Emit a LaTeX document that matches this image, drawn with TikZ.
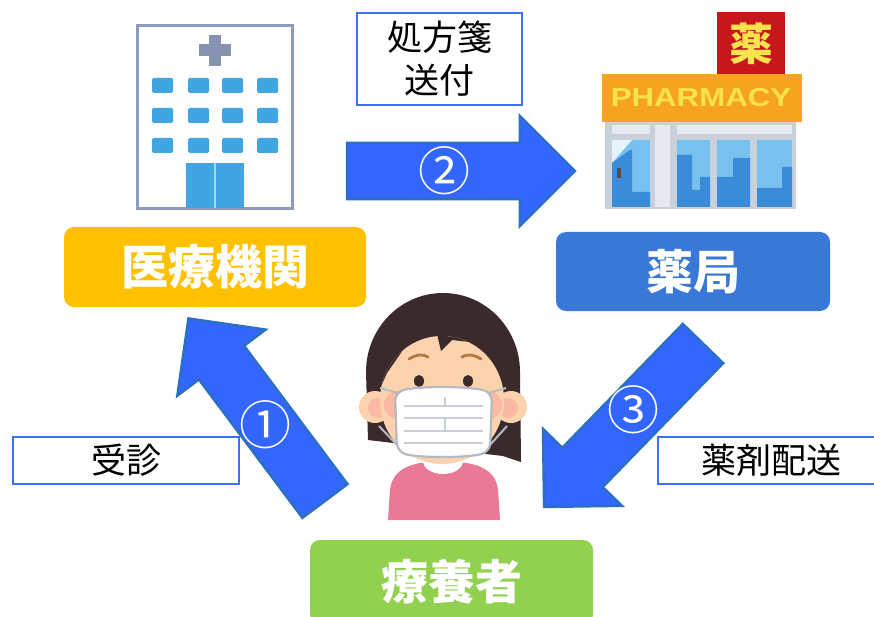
\documentclass[tikz,border=0pt]{standalone}
\usepackage{fontspec}
\newfontfamily\jpfont{Noto Sans CJK JP}
\newfontfamily\signfont{Liberation Sans}
\usetikzlibrary{shapes.arrows}
\definecolor{flowfill}{HTML}{3366FF}
\definecolor{flowedge}{HTML}{2B70BE}
\definecolor{tagedge}{HTML}{3F6FF8}
\definecolor{clinic}{HTML}{FFC000}
\definecolor{pharm}{HTML}{3A78D8}
\definecolor{patient}{HTML}{92D050}
\definecolor{wallline}{HTML}{8E9BBE}
\definecolor{crossgray}{HTML}{8793B0}
\definecolor{winblue}{HTML}{40A5E0}
\definecolor{doorline}{HTML}{A8D6F2}
\definecolor{signred}{HTML}{C8161D}
\definecolor{signorange}{HTML}{F6A41E}
\definecolor{signyellow}{HTML}{FAE24C}
\definecolor{shopgray}{HTML}{C9D0DA}
\definecolor{shopband}{HTML}{E6EAF0}
\definecolor{glasslight}{HTML}{78C0EE}
\definecolor{glassdark}{HTML}{3A8BD8}
\definecolor{hair}{HTML}{3B2A2C}
\definecolor{skin}{HTML}{FCD3AE}
\definecolor{blush}{HTML}{F9B9A2}
\definecolor{brow}{HTML}{B07B3C}
\definecolor{maskline}{HTML}{B4BBC4}
\definecolor{pleat}{HTML}{C9CED6}
\definecolor{shirt}{HTML}{EA7897}
\begin{document}
\begin{tikzpicture}[x=1pt,y=-1pt,
  flow/.style={single arrow, draw=flowedge, fill=flowfill, line width=2.4pt,
    minimum height=228pt, single arrow head extend=27pt,
    inner xsep=0pt, inner ysep=27pt, outer sep=0pt, anchor=tail},
  num/.style={text=white, inner sep=0pt, font=\jpfont\fontsize{52}{52}\selectfont},
  tag/.style={draw=tagedge, line width=2pt, fill=white, inner sep=0pt,
    font=\jpfont\fontsize{35}{43}\selectfont, align=center},
  title/.style={rounded corners=10pt, text=white, inner sep=0pt,
    font=\jpfont\bfseries\fontsize{47}{47}\selectfont},
  winpane/.style={fill=winblue, rounded corners=1.5pt}
]
\useasboundingbox[fill=white] (0,0) rectangle (874,617);

% ---------- hospital ----------
\draw[line width=3pt, draw=wallline, fill=white] (137,26) rectangle (292,209);
\fill[crossgray] (209,35) rectangle (221,66);
\fill[crossgray] (199,44) rectangle (231,56);
\foreach \wx in {152,188,222,257}{
  \foreach \wy in {78,108,138}{
    \fill[winpane] (\wx,\wy) rectangle ++(21,15);
  }
}
\fill[winblue] (186,163) rectangle (244,208);
\draw[doorline, line width=1.2pt] (215,163) -- (215,208);

% ---------- pharmacy ----------
\fill[signred] (717,12) rectangle (785,74);
\node[text=signyellow, font=\jpfont\bfseries\fontsize{44}{44}\selectfont, inner sep=0pt] (kanjisign) at (751,44) {薬};
\fill[shopgray] (605,122) rectangle (796,209);
\fill[shopband] (612,125) rectangle (650,134);
\fill[shopband] (677,125) rectangle (792,134);
\fill[shopband] (655,125) rectangle (670,207);
\fill[signorange] (602,74) rectangle (802,122);
\node[text=signyellow, font=\signfont\bfseries\fontsize{26}{26}\selectfont, inner sep=0pt] (shopname) at (701,98) {\scalebox{1.2}[1]{PHARMACY}};
% door
\fill[glasslight] (612,140) rectangle (650,207);
\fill[white!80!glasslight] (612,140) -- (632,140) -- (612,163) -- cycle;
\fill[glassdark] (612,163) -- (630,150) -- (632,150) -- (632,192) -- (650,192) -- (650,207) -- (612,207) -- cycle;
\fill[hair!85] (617,168) rectangle (621,178);
% shop windows
\fill[glasslight] (677,140) rectangle (710,207);
\fill[glasslight] (717,140) rectangle (750,207);
\fill[glasslight] (757,140) rectangle (792,207);
\fill[glassdark] (677,155) -- (692,155) -- (692,190) -- (700,190) -- (700,177) -- (710,177) -- (710,207) -- (677,207) -- cycle;
\fill[glassdark] (717,177) -- (733,177) -- (733,158) -- (750,158) -- (750,207) -- (717,207) -- cycle;
\fill[glassdark] (757,188) -- (782,188) -- (782,167) -- (792,167) -- (792,207) -- (757,207) -- cycle;

% ---------- patient ----------
\fill[shirt] (388,520) -- (390,490) .. controls (392,470) and (410,463) .. (430,462) -- (456,462) .. controls (478,463) and (496,470) .. (498,490) -- (500,520) -- cycle;
\fill[white] (423,461) arc[start angle=180, end angle=0, x radius=20, y radius=13] -- cycle;
\fill[hair] (366,372) arc[start angle=180, end angle=360, x radius=77, y radius=79]
  -- (521,462) -- (503,456) -- (385,442) -- (368,440) -- cycle;
\fill[skin] (375,407) circle[radius=16];
\fill[skin] (511,407) circle[radius=16];
\fill[blush] (378,408) circle[radius=10];
\fill[blush] (508,408) circle[radius=10];
\begin{scope}
  \clip (442,400) ellipse[x radius=62, y radius=64];
  \fill[skin] (380,330) rectangle (505,470);
  \fill[blush] (398,405) circle[radius=14];
  \fill[blush] (488,405) circle[radius=14];
  \fill[hair] (375,400) -- (387,373) -- (410,340) -- (437,334) -- (441,351)
    -- (452,340) -- (487,344) -- (500,363) -- (510,400) -- (510,300) -- (375,300) -- cycle;
\end{scope}
\draw[brow, line width=2.8pt, line cap=round] (409,359) .. controls (417,354) and (423,354) .. (428,357);
\draw[brow, line width=2.8pt, line cap=round] (462,357) .. controls (467,354) and (473,354) .. (481,359);
\fill[hair] (419,381) ellipse[x radius=5, y radius=6];
\fill[hair] (468,381) ellipse[x radius=5, y radius=6];
% mask and ear loops
\draw[maskline, line width=2pt] (398,393) -- (380,388);
\draw[maskline, line width=2pt] (398,446) -- (379,426);
\draw[maskline, line width=2pt] (489,393) -- (506,388);
\draw[maskline, line width=2pt] (489,446) -- (507,426);
\draw[maskline, line width=2.2pt, fill=white, rounded corners=9pt]
  (395,392) .. controls (420,386) and (465,386) .. (492,392) -- (490,452)
  .. controls (465,458) and (420,458) .. (397,452) -- cycle;
\foreach \py in {406,418,431,443}{
  \draw[pleat, line width=1.6pt] (404,\py) -- (483,\py);
}
\draw[pleat, line width=1.4pt] (445,397) -- (445,406) (445,418) -- (445,431);

% ---------- titles ----------
\node[title, fill=clinic, minimum width=302pt, minimum height=80pt] (clinicbox) at (215,267) {医療機関};
\node[title, fill=pharm, minimum width=274pt, minimum height=79pt] (pharmbox) at (693,271.5) {薬局};
\node[title, fill=patient, minimum width=283pt, minimum height=84pt] (patientbox) at (451.5,582) {療養者};

% ---------- flow arrows ----------
\coordinate (tailA) at (325,501);
\coordinate (tailB) at (347,171);
\coordinate (tailC) at (703,343.5);
\node[flow, rotate=126.8] (visit) at (tailA) {};
\node[flow] (prescription) at (tailB) {};
\node[flow, rotate=-134.2] (delivery) at (tailC) {};
\node[num] (n1) at (265,425) {①};
\node[num] (n2) at (444,171) {②};
\node[num] (n3) at (633,410) {③};

% ---------- step captions ----------
\node[tag, minimum width=165pt, minimum height=92pt] (tagB) at (439.5,59) {処方箋\\送付};
\node[tag, minimum width=226pt, minimum height=47pt] (tagA) at (126,460.5) {受診};
\node[tag, minimum width=226pt, minimum height=47pt] (tagC) at (771,460.5) {薬剤配送};
\end{tikzpicture}
\end{document}
